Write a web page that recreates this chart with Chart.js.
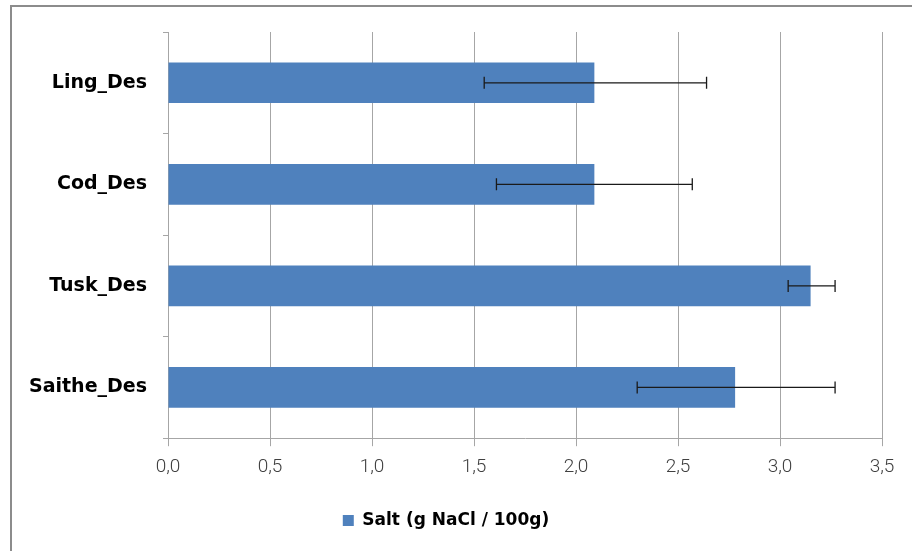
<!DOCTYPE html>
<html>
<head>
<meta charset="utf-8">
<script src="https://cdn.jsdelivr.net/npm/chart.js@4"></script>
<style>
  html, body { margin: 0; padding: 0; background: #fff; overflow: hidden; }
  #wrap { position: relative; width: 912px; height: 551px; }
  #frame { position: absolute; left: 10px; top: 5px; width: 920px; height: 560px; border: 2px solid #8c8c8c; box-sizing: border-box; pointer-events: none; }
  canvas { position: absolute; left: 0; top: 0; }
</style>
</head>
<body>
<div id="wrap">
  <div id="frame"></div>
  <canvas id="c" width="912" height="551"></canvas>
</div>
<script>
// categories, top to bottom
const categories = ["Ling_Des", "Cod_Des", "Tusk_Des", "Saithe_Des"];
const saltValues = [2.09, 2.09, 3.15, 2.78];
const errLow     = [1.55, 1.61, 3.04, 2.30];
const errHigh    = [2.64, 2.57, 3.27, 3.27];
const xTicks     = [0, 0.5, 1, 1.5, 2, 2.5, 3, 3.5];
const seriesLabel = "Salt (g NaCl / 100g)";

const fmt = (v) => v.toFixed(1).replace(".", ",");

// error bars drawn via the scales
const errorBars = {
  id: "errorBars",
  afterDatasetsDraw(chart) {
    const { ctx, scales: { x } } = chart;
    const meta = chart.getDatasetMeta(0);
    ctx.save();
    ctx.strokeStyle = "#1a1a1a";
    ctx.lineWidth = 1.3;
    meta.data.forEach((bar, i) => {
      const y = bar.y;
      const x1 = x.getPixelForValue(errLow[i]);
      const x2 = x.getPixelForValue(errHigh[i]);
      ctx.beginPath();
      ctx.moveTo(x1, y); ctx.lineTo(x2, y);
      ctx.moveTo(x1, y - 6); ctx.lineTo(x1, y + 6);
      ctx.moveTo(x2, y - 6); ctx.lineTo(x2, y + 6);
      ctx.stroke();
    });
    ctx.restore();
  }
};

new Chart(document.getElementById("c"), {
  type: "bar",
  data: {
    labels: categories,
    datasets: [{
      label: seriesLabel,
      data: saltValues,
      backgroundColor: "#4F81BD",
      borderWidth: 0,
      categoryPercentage: 1,
      barPercentage: 0.4
    }]
  },
  options: {
    indexAxis: "y",
    responsive: false,
    animation: false,
    layout: { padding: { left: 10, right: 30, top: 32, bottom: 12 } },
    scales: {
      x: {
        min: 0, max: 3.5,
        afterBuildTicks: (s) => { s.ticks = xTicks.map(v => ({ value: v })); },
        grid: { color: "#a6a6a6", lineWidth: 1, tickLength: 8, drawTicks: true },
        border: { color: "#a6a6a6", width: 1 },
        ticks: {
          callback: (v) => fmt(v),
          color: "#404040",
          font: { family: "Roboto, sans-serif", size: 19, weight: 300 },
          padding: 10,
          maxRotation: 0
        }
      },
      y: {
        afterFit: (s) => { s.width = 158; },
        grid: { offset: true, drawOnChartArea: false, tickLength: 5, color: "#a6a6a6" },
        border: { color: "#a6a6a6", width: 1 },
        ticks: {
          color: "#000",
          font: { family: "DejaVu Sans, sans-serif", size: 19, weight: "bold" },
          padding: 16
        }
      }
    },
    plugins: {
      legend: {
        position: "bottom",
        labels: {
          boxWidth: 11, boxHeight: 11,
          padding: 23,
          color: "#000",
          font: { family: "DejaVu Sans, sans-serif", size: 17, weight: "bold" }
        }
      },
      tooltip: { enabled: false }
    }
  },
  plugins: [errorBars]
});
</script>
</body>
</html>
